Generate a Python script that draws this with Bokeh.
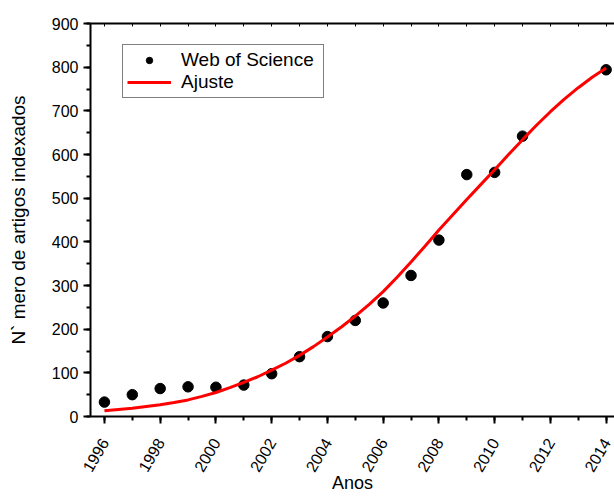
import math

from bokeh.plotting import figure
from bokeh.models import (Range1d, LinearAxis, Legend, LegendItem,
                          SingleIntervalTicker)
from bokeh.embed import file_html
from bokeh.resources import INLINE

# Artigos indexados na Web of Science por ano
anos = [1996, 1997, 1998, 1999, 2000, 2001, 2002, 2003, 2004, 2005,
        2006, 2007, 2008, 2009, 2010, 2011, 2014]
artigos = [33, 50, 64, 68, 67, 72, 98, 137, 183, 220,
           260, 323, 404, 554, 559, 642, 794]

# Curva de ajuste (sigmoide), lida a cada meio ano
anos_ajuste = [1996, 1996.5, 1997, 1997.5, 1998, 1998.5, 1999, 1999.5,
               2000, 2000.5, 2001, 2001.5, 2002, 2002.5, 2003, 2003.5,
               2004, 2004.5, 2005, 2005.5, 2006, 2006.5, 2007, 2007.5,
               2008, 2008.5, 2009, 2009.5, 2010, 2010.5, 2011, 2011.5,
               2012, 2012.5, 2013, 2013.5, 2014]
ajuste = [13, 16, 19, 23, 27, 32, 38, 46,
          55, 66, 78, 91, 106, 122, 140, 160,
          182, 205, 230, 257, 286, 319, 354, 390,
          427, 462, 497, 531, 565, 600, 634, 667,
          698, 727, 753, 777, 798]

FONT = "Liberation Sans"

p = figure(width=614, height=496, output_backend="svg", toolbar_location=None,
           x_range=Range1d(1995.5, 2014.3), y_range=Range1d(0, 900),
           min_border_left=90, min_border_right=0, min_border_top=23,
           min_border_bottom=80, x_axis_location=None, y_axis_location=None)
p.outline_line_color = None
p.xgrid.visible = False
p.ygrid.visible = False
p.background_fill_color = "white"
p.border_fill_color = "white"

xticker = SingleIntervalTicker(interval=2, num_minor_ticks=2)
yticker = SingleIntervalTicker(interval=100, num_minor_ticks=2)

xaxis = LinearAxis(ticker=xticker, axis_label="Anos")
yaxis = LinearAxis(ticker=yticker, axis_label="N` mero de artigos indexados")
top = LinearAxis(ticker=SingleIntervalTicker(interval=1, num_minor_ticks=0))

for ax in (xaxis, yaxis):
    ax.axis_line_width = 2
    ax.axis_line_color = "black"
    ax.major_tick_line_width = 2
    ax.minor_tick_line_width = 2
    ax.major_tick_out = 7
    ax.major_tick_in = 0
    ax.minor_tick_out = 4
    ax.minor_tick_in = 0
    ax.major_label_text_font = FONT
    ax.major_label_text_font_size = "16px"
    ax.major_label_text_color = "black"
    ax.axis_label_text_font = FONT
    ax.axis_label_text_font_style = "normal"
    ax.axis_label_text_color = "black"

xaxis.axis_label_text_font_size = "18px"
yaxis.axis_label_text_font_size = "19px"
xaxis.major_label_orientation = math.radians(60)
xaxis.major_label_standoff = 16
xaxis.axis_label_standoff = -6
yaxis.major_label_standoff = 5
yaxis.axis_label_standoff = 20

# moldura superior: só a linha e os traços internos, sem rótulos
top.axis_line_width = 2
top.axis_line_color = "black"
top.major_tick_out = 0
top.major_tick_in = 3
top.minor_tick_out = 0
top.minor_tick_in = 0
top.major_label_text_color = None
top.major_label_text_font_size = "1px"
top.major_label_standoff = 0

p.add_layout(xaxis, "below")
p.add_layout(yaxis, "left")
p.add_layout(top, "above")

pontos = p.scatter(anos, artigos, size=10.5, color="black", marker="circle")
curva = p.line(anos_ajuste, ajuste, line_color="red", line_width=3)

legend = Legend(items=[LegendItem(label="Web of Science", renderers=[pontos]),
                       LegendItem(label="Ajuste", renderers=[curva])],
                location=(32, 318))
legend.label_text_font = FONT
legend.label_text_font_size = "19px"
legend.label_text_color = "black"
legend.glyph_width = 44
legend.glyph_height = 16
legend.label_height = 16
legend.label_width = 138
legend.label_standoff = 10
legend.padding = 4
legend.spacing = 0
legend.margin = 0
legend.border_line_color = "black"
legend.border_line_width = 1
legend.background_fill_alpha = 1
p.add_layout(legend, "center")

open("out.html", "w").write(file_html(p, INLINE))
